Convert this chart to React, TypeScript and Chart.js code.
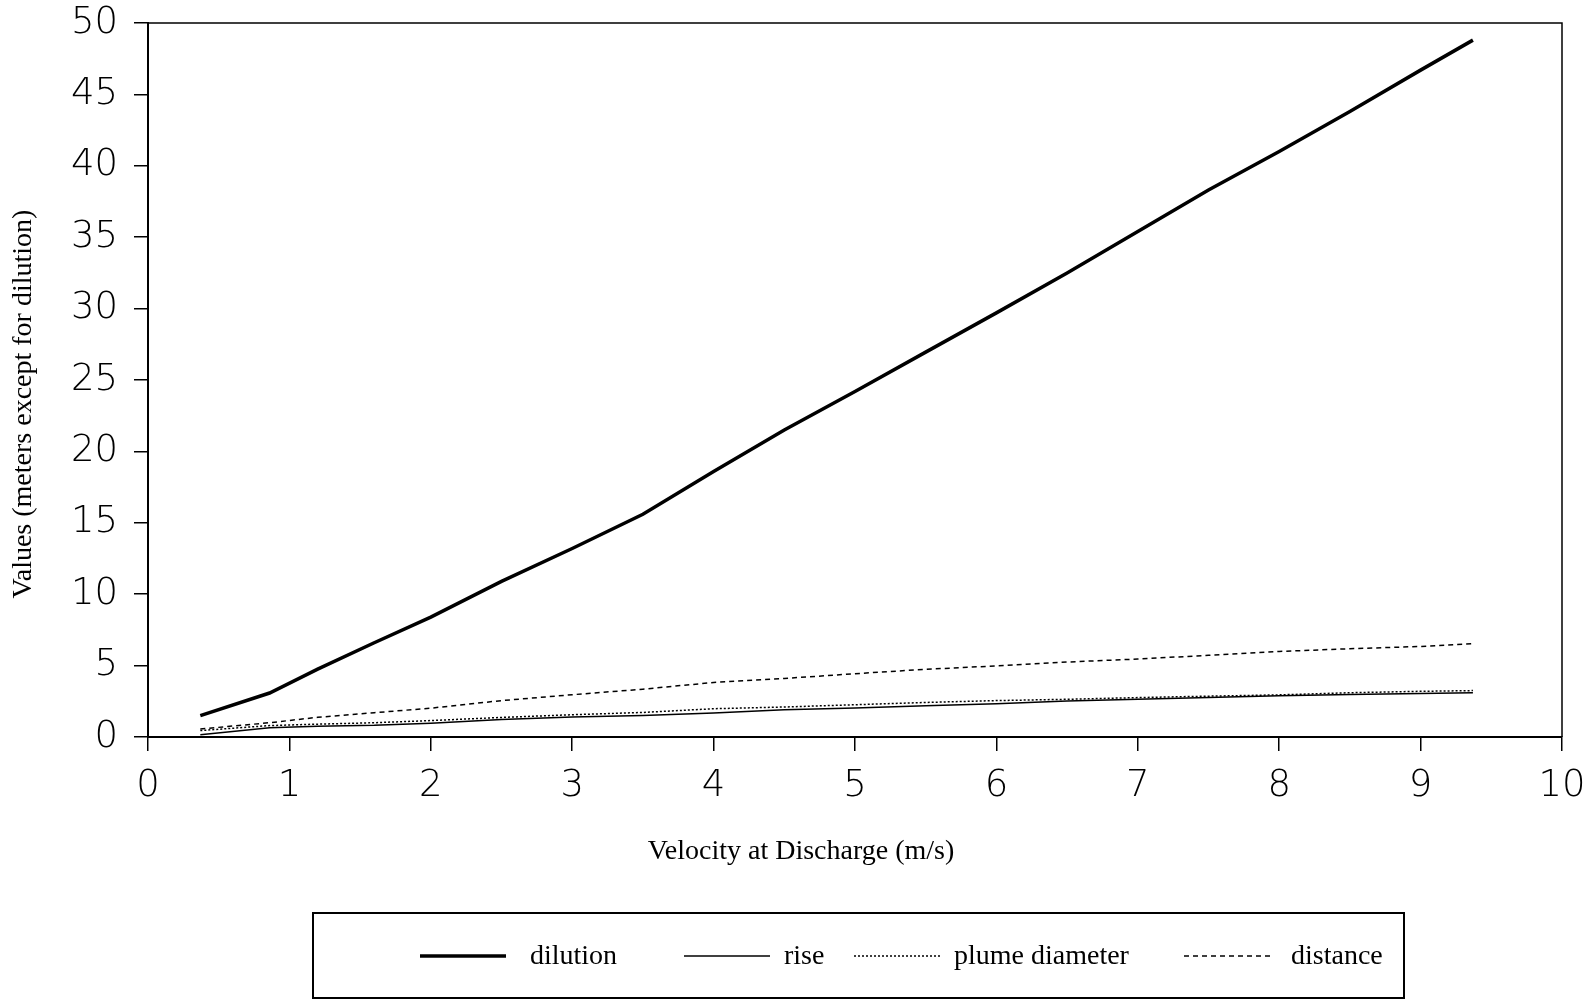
import React, { useEffect, useRef } from 'react';
import { Chart, registerables } from 'chart.js';

Chart.register(...registerables);

// ---- data ----
const velocity = [0.37, 0.86, 1.2, 1.6, 2.0, 2.5, 3.0, 3.5, 4.0, 4.5, 5.0, 5.5, 6.0, 6.5, 7.0, 7.5, 8.0, 8.5, 9.0, 9.37];
const dilution = [1.5, 3.08, 4.75, 6.6, 8.4, 10.9, 13.2, 15.6, 18.6, 21.5, 24.2, 26.95, 29.7, 32.5, 35.4, 38.3, 41.0, 43.8, 46.7, 48.8];
const rise = [0.16, 0.65, 0.76, 0.82, 0.97, 1.22, 1.4, 1.5, 1.68, 1.91, 2.03, 2.18, 2.33, 2.52, 2.65, 2.76, 2.88, 2.98, 3.05, 3.1];
const plumeDiameter = [0.45, 0.8, 0.9, 1.0, 1.15, 1.37, 1.56, 1.72, 1.98, 2.1, 2.26, 2.42, 2.55, 2.64, 2.76, 2.86, 2.95, 3.1, 3.2, 3.25];
const distance = [0.56, 1.0, 1.38, 1.7, 2.02, 2.55, 2.96, 3.35, 3.82, 4.1, 4.43, 4.74, 4.98, 5.25, 5.46, 5.72, 5.99, 6.18, 6.34, 6.53];
const seriesLabels = ['dilution', 'rise', 'plume diameter', 'distance'];
const xTitle = 'Velocity at Discharge (m/s)';
const yTitle = 'Values (meters except for dilution)';
const xMin = 0, xMax = 10, xStep = 1;
const yMin = 0, yMax = 50, yStep = 5;

const toPoints = (ys: number[]) => ys.map((y, i) => ({ x: velocity[i], y }));

const SERIF = '"Liberation Serif", "Times New Roman", serif';
const SANS = '"DejaVu Sans", sans-serif';

const decorPlugin = {
  id: 'decor',
  afterDraw(chart: any) {
    const { ctx, chartArea: a } = chart;
    ctx.save();
    // top and right frame
    ctx.strokeStyle = '#000';
    ctx.lineWidth = 1.5;
    ctx.beginPath();
    ctx.moveTo(a.left, a.top);
    ctx.lineTo(a.right, a.top);
    ctx.lineTo(a.right, a.bottom);
    ctx.stroke();

    // axis titles
    ctx.fillStyle = '#000';
    ctx.font = `28px ${SERIF}`;
    ctx.textAlign = 'center';
    ctx.textBaseline = 'alphabetic';
    ctx.fillText(xTitle, 801, 859);
    ctx.save();
    ctx.translate(31, 404);
    ctx.rotate(-Math.PI / 2);
    ctx.fillText(yTitle, 0, 0);
    ctx.restore();

    // legend box
    const box = { left: 313, top: 913, right: 1404, bottom: 998 };
    ctx.lineWidth = 2;
    ctx.strokeRect(box.left, box.top, box.right - box.left, box.bottom - box.top);
    const lineStarts = [420, 684, 854, 1184];
    const textStarts = [530, 784, 954, 1291];
    const lineLen = 86;
    const lineY = 956;
    chart.data.datasets.forEach((ds: any, i: number) => {
      ctx.save();
      ctx.strokeStyle = '#000';
      ctx.lineWidth = ds.borderWidth;
      ctx.setLineDash(ds.borderDash || []);
      ctx.beginPath();
      ctx.moveTo(lineStarts[i], lineY);
      ctx.lineTo(lineStarts[i] + lineLen, lineY);
      ctx.stroke();
      ctx.restore();
      ctx.font = `28px ${SERIF}`;
      ctx.textAlign = 'left';
      ctx.textBaseline = 'alphabetic';
      ctx.fillText(ds.label, textStarts[i], 964);
    });
    ctx.restore();
  },
};

export default function App() {
  const ref = useRef<HTMLCanvasElement | null>(null);
  useEffect(() => {
    document.body.style.margin = '0';
    const canvas = ref.current;
    if (!canvas) return;
    const chart = new Chart(canvas, {
      type: 'line',
      data: {
        datasets: [
          { label: seriesLabels[0], data: toPoints(dilution), borderColor: '#000', borderWidth: 3.5, pointRadius: 0, fill: false, tension: 0 },
          { label: seriesLabels[1], data: toPoints(rise), borderColor: '#000', borderWidth: 1.5, pointRadius: 0, fill: false, tension: 0 },
          { label: seriesLabels[2], data: toPoints(plumeDiameter), borderColor: '#000', borderWidth: 1.5, borderDash: [2, 2], pointRadius: 0, fill: false, tension: 0 },
          { label: seriesLabels[3], data: toPoints(distance), borderColor: '#000', borderWidth: 1.5, borderDash: [5, 4], pointRadius: 0, fill: false, tension: 0 },
        ],
      },
      options: {
        animation: false,
        responsive: false,
        devicePixelRatio: 1,
        layout: { padding: { left: 0, top: 23, right: 32, bottom: 0 } },
        plugins: { legend: { display: false }, tooltip: { enabled: false }, title: { display: false } },
        scales: {
          x: {
            type: 'linear',
            min: xMin,
            max: xMax,
            afterFit: (s: any) => { s.height = 264; s.paddingLeft = 0; s.paddingRight = 0; },
            ticks: { stepSize: xStep, color: '#000', padding: 13, font: { family: SANS, size: 37, weight: '200' } },
            grid: { drawOnChartArea: false, drawTicks: true, tickLength: 14, color: '#000', lineWidth: 1.5 },
            border: { display: true, color: '#000', width: 2 },
          },
          y: {
            type: 'linear',
            min: yMin,
            max: yMax,
            afterFit: (s: any) => { s.width = 148; s.paddingTop = 0; s.paddingBottom = 0; },
            ticks: { stepSize: yStep, color: '#000', padding: 16, font: { family: SANS, size: 37, weight: '200' } },
            grid: { drawOnChartArea: false, drawTicks: true, tickLength: 14, color: '#000', lineWidth: 1.5 },
            border: { display: true, color: '#000', width: 2 },
          },
        },
      },
      plugins: [decorPlugin],
    });
    return () => chart.destroy();
  }, []);
  return (
    <div style={{ width: 1594, height: 1001, background: '#fff' }}>
      <canvas ref={ref} width={1594} height={1001} style={{ display: 'block' }} />
    </div>
  );
}
